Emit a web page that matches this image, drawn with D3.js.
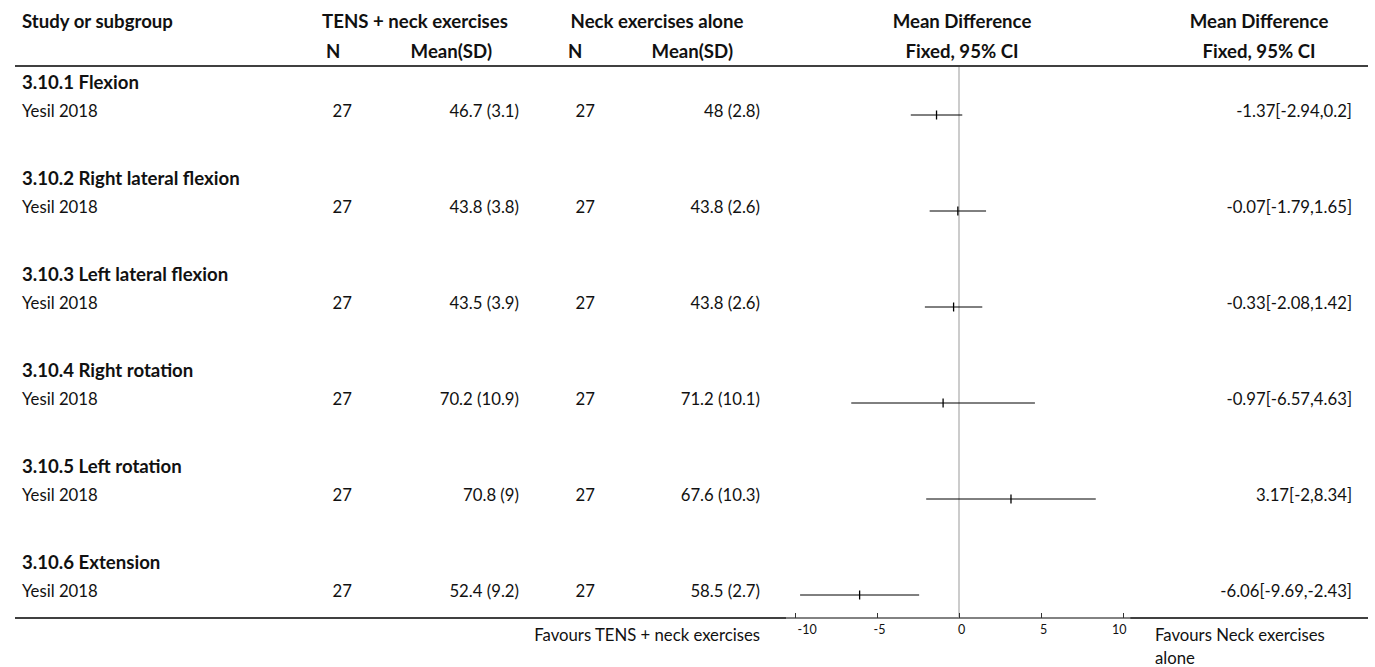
<!DOCTYPE html>
<html><head><meta charset="utf-8">
<script src="https://cdn.jsdelivr.net/npm/d3@7"></script>
<style>body{margin:0;background:#fff}svg{display:block}text{font-family:Lato,"Noto Sans",sans-serif;fill:#111}</style>
</head><body><svg id="c" width="1375" height="667"></svg>
<script>
const subgroups = ["3.10.1 Flexion","3.10.2 Right lateral flexion","3.10.3 Left lateral flexion","3.10.4 Right rotation","3.10.5 Left rotation","3.10.6 Extension"];
const studies = ["Yesil 2018","Yesil 2018","Yesil 2018","Yesil 2018","Yesil 2018","Yesil 2018"];
const n1 = [27,27,27,27,27,27];
const mean1 = [46.7,43.8,43.5,70.2,70.8,52.4];
const sd1 = [3.1,3.8,3.9,10.9,9,9.2];
const n2 = [27,27,27,27,27,27];
const mean2 = [48,43.8,43.8,71.2,67.6,58.5];
const sd2 = [2.8,2.6,2.6,10.1,10.3,2.7];
const md = [-1.37,-0.07,-0.33,-0.97,3.17,-6.06];
const lo = [-2.94,-1.79,-2.08,-6.57,-2,-9.69];
const hi = [0.2,1.65,1.42,4.63,8.34,-2.43];
const tickVals = [-10,-5,0,5,10];
const tickLabels = ["-10","-5","0","5","10"];

const svg = d3.select("#c");

// fit font sizes to the reference's measured text widths
function fitSize(str, bold, target){
  const tt = svg.append("text").attr("font-size",100).attr("font-weight",bold?"bold":null).text(str);
  const w = tt.node().getComputedTextLength(); tt.remove();
  return 100*target/w;
}
const fsB = fitSize("Study or subgroup", true, 151);
const fsR = fitSize("-1.37[-2.94,0.2]", false, 116);
const fsT = Math.max(12.5, fitSize("-10", false, 18));

const x = d3.scaleLinear().domain([-10,10]).range([795,1123]);
const yRow = d3.scaleLinear().domain([0,1]).range([89,185]); // subgroup index -> header baseline

const t = (xp, yp, s, anchor, bold, size) => svg.append("text").attr("x",xp).attr("y",yp)
  .attr("text-anchor",anchor||"start").attr("font-size", size || (bold?fsB:fsR))
  .attr("font-weight",bold?"bold":null).text(s);

// header
t(22,28,"Study or subgroup","start",true);
t(415,28,"TENS + neck exercises","middle",true);
t(657,28,"Neck exercises alone","middle",true);
t(962,28,"Mean Difference","middle",true);
t(1259,28,"Mean Difference","middle",true);
t(326,58,"N","start",true);
t(492,58,"Mean(SD)","end",true);
t(568,58,"N","start",true);
t(733,58,"Mean(SD)","end",true);
t(962,58,"Fixed, 95% CI","middle",true);
t(1259,58,"Fixed, 95% CI","middle",true);

svg.append("line").attr("x1",15).attr("x2",1368).attr("y1",66).attr("y2",66).attr("stroke","#000").attr("stroke-width",1.5);
svg.append("line").attr("x1",15).attr("x2",1368).attr("y1",618).attr("y2",618).attr("stroke","#000").attr("stroke-width",1.5);

// zero line
svg.append("line").attr("x1",x(0)).attr("x2",x(0)).attr("y1",67).attr("y2",618).attr("stroke","#999").attr("stroke-width",1);

const fmt = v => String(v);
subgroups.forEach((g,i)=>{
  const yh = yRow(i), ys = yh+28, yl = yh+26;
  t(22,yh,g,"start",true);
  t(22,ys,studies[i]);
  t(352,ys,fmt(n1[i]),"end");
  t(519,ys,`${fmt(mean1[i])} (${fmt(sd1[i])})`,"end");
  t(595,ys,fmt(n2[i]),"end");
  t(760,ys,`${fmt(mean2[i])} (${fmt(sd2[i])})`,"end");
  t(1352,ys,`${fmt(md[i])}[${fmt(lo[i])},${fmt(hi[i])}]`,"end");
  svg.append("line").attr("x1",x(lo[i])).attr("x2",x(hi[i])).attr("y1",yl).attr("y2",yl).attr("stroke","#000").attr("stroke-width",1);
  svg.append("line").attr("x1",x(md[i])).attr("x2",x(md[i])).attr("y1",yl-4.5).attr("y2",yl+4.5).attr("stroke","#000").attr("stroke-width",1.3);
});

// axis
const ax = svg.append("g").attr("transform","translate(0,618)")
  .call(d3.axisTop(x).tickValues(tickVals).tickSize(5).tickFormat((d,i)=>tickLabels[i]).tickSizeOuter(0));
ax.attr("font-family",null).attr("font-size",null);
ax.select(".domain").attr("stroke","#999").attr("stroke-width",1.5).attr("d",`M${x(-10.55)},0H${x(10.45)}`);
ax.selectAll(".tick line").attr("stroke","#333");
ax.selectAll(".tick text").attr("y",16).attr("dy",0).attr("font-size",fsT).style("fill","#111")
  .attr("text-anchor",d=> d===tickVals[0] ? "start" : d===tickVals[tickVals.length-1] ? "end" : "middle")
  .attr("dx",d=> d===tickVals[0] ? 2 : d===tickVals[tickVals.length-1] ? 3 : 2);

t(760,641,"Favours TENS + neck exercises","end");
t(1155,641,"Favours Neck exercises");
t(1155,664,"alone");
</script></body></html>
